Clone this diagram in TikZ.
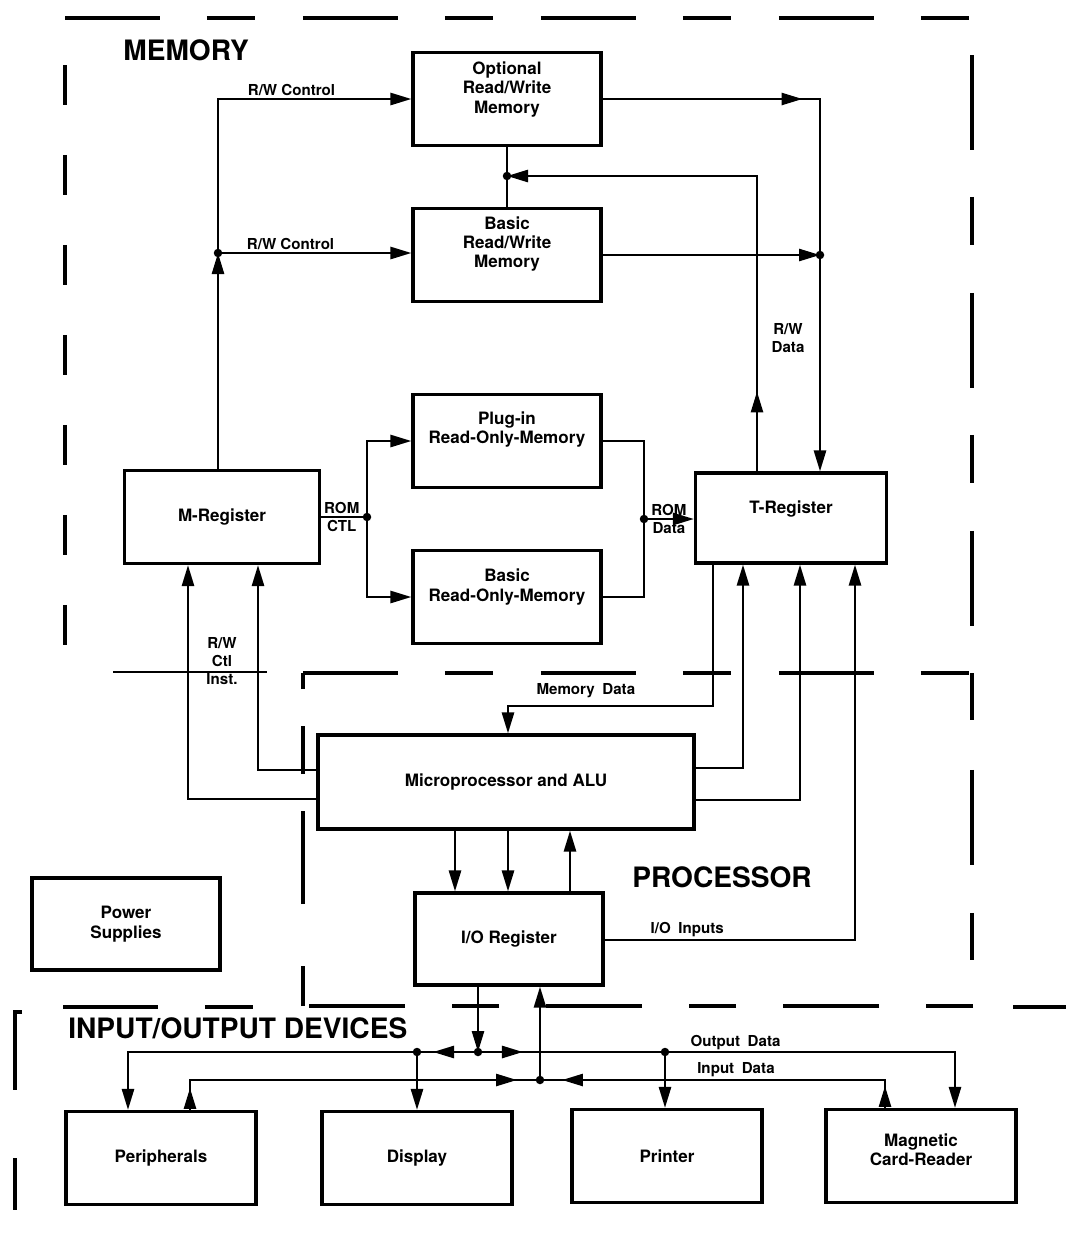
\documentclass[tikz,border=0pt]{standalone}
\usepackage{fontspec}
\setmainfont{TeX Gyre Heros}
\usetikzlibrary{arrows.meta,decorations.markings}

\tikzset{
  box/.style={draw, line width=1.8pt, minimum width=3.76cm, minimum height=1.86cm,
    align=center, font=\bfseries\fontsize{9.7}{11}\selectfont},
  lift/.style={text depth=#1},
  wire/.style={line width=1.5pt},
  lbl/.style={font=\bfseries\fontsize{8.6}{10}\selectfont, inner sep=1pt, align=center},
  title/.style={font=\bfseries\fontsize{16}{18}\selectfont, inner sep=0pt},
  region/.style={line width=2.4pt, dash pattern=on 1.9cm off 0.94cm on 0.96cm off 0.96cm},
  >={Triangle[length=0.42cm,width=0.24cm]},
  arr/.style={postaction={decorate, decoration={markings, mark=at position #1 with {\arrow{>}}}}},
}

\begin{document}
\begin{tikzpicture}[x=0.02cm, y=-0.02cm]
\useasboundingbox (0,0) rectangle (1066,1245);

% blocks
\node[box, lift=13pt] (optrw) at (507,99) {Optional\\Read/Write\\Memory};
\node[box, lift=14.5pt] (basrw) at (507,255) {Basic\\Read/Write\\Memory};
\node[box, lift=15.5pt] (plugrom) at (507,441) {Plug-in\\Read-Only-Memory};
\node[box, lift=13.5pt] (basrom) at (507,597) {Basic\\Read-Only-Memory};
\node[box, minimum width=3.9cm] (mreg) at (222,517) {M-Register};
\node[box, minimum width=3.82cm, minimum height=1.8cm, lift=12pt] (treg) at (791,518) {T-Register};
\node[box, minimum width=7.52cm, minimum height=1.88cm] (alu) at (506,782) {Microprocessor and ALU};
\node[box, minimum height=1.84cm] (ioreg) at (509,939) {I/O Register};
\node[box, minimum height=1.84cm] (power) at (126,924) {Power\\Supplies};
\node[box, minimum width=3.8cm] (periph) at (161,1158) {Peripherals};
\node[box, minimum width=3.8cm] (disp) at (417,1158) {Display};
\node[box, minimum width=3.8cm] (printer) at (667,1156) {Printer};
\node[box, minimum width=3.8cm, lift=7pt] (cardrd) at (921,1156) {Magnetic\\Card-Reader};

% junctions
\coordinate (jm) at (218,253);
\coordinate (jrw) at (507,176);
\coordinate (jr) at (820,255);
\coordinate (jc) at (367,517);
\coordinate (jd) at (644,519);
\coordinate (jo) at (478,1052);
\coordinate (ji) at (540,1080);
\coordinate (jdsp) at (417,1052);
\coordinate (jprn) at (665,1052);

% memory connections
\draw[wire,->] (mreg.north -| jm) -- (jm);
\draw[wire,->] (jm) |- node[lbl, above, pos=0.69] (rwc1) {R/W Control} (optrw.west);
\draw[wire,->] (jm) -- node[lbl, above, pos=0.375] (rwc2) {R/W Control} (jm -| basrw.west);
\draw[wire] (optrw.south) -- (basrw.north);
\draw[wire,->,arr=1.6cm] (treg.north -| 757,0) |- (jrw);
\draw[wire,arr=4cm] (optrw.east) -| (jr);
\draw[wire,->] (basrw.east) -- (jr);
\draw[wire,->] (jr) -- (jr |- treg.north);
\node[lbl] (rwd) at (788,338) {R/W\\Data};

\draw[wire] (mreg.east) -- node[lbl, above, pos=0.45] (romc1) {ROM} node[lbl, below, pos=0.45] (romc2) {CTL} (jc);
\draw[wire,->] (jc) |- (plugrom.west);
\draw[wire,->] (jc) |- (basrom.west);
\draw[wire] (plugrom.east) -| (jd);
\draw[wire] (basrom.east) -| (jd);
\draw[wire,->] (jd) -- node[lbl, above] (romd1) {ROM} node[lbl, below] (romd2) {Data} (jd -| treg.west);

% processor connections
\draw[wire,->] (treg.south -| 713,0) -- (713,706) -| node[lbl, above=3pt, pos=0.31] (memd) {Memory\enspace Data} (alu.north -| 508,0);
\draw[wire,->] (alu.east |- 0,768) -| (743,0 |- treg.south);
\draw[wire,->] (alu.east |- 0,800) -| (800,0 |- treg.south);
\draw[wire,->] (ioreg.east |- 0,940) -| node[lbl, above, pos=0.165] (ioin) {I/O\enspace Inputs} (855,0 |- treg.south);
\draw[wire,->] (alu.west |- 0,770) -| (258,0 |- mreg.south);
\draw[wire,->] (alu.west |- 0,799) -| (188,0 |- mreg.south);
\node[lbl] (rwci) at (222,661) {R/W\\Ctl\\Inst.};

\foreach \x in {455,508}
  \draw[wire,->] (alu.south -| \x,0) -- (ioreg.north -| \x,0);
\draw[wire,->] (ioreg.north -| 570,0) -- (alu.south -| 570,0);

% i/o buses
\draw[wire,->] (ioreg.south -| jo) -- (jo);
\draw[wire,->] (ji) -- (ioreg.south -| ji);
\draw[wire,->,arr=0.9cm] (jo) -| (periph.north -| 128,0);
\draw[wire,->,arr=0.9cm] (jo) -| node[lbl, above, pos=0.27, inner sep=0.5pt] (outd) {Output\enspace Data} (cardrd.north -| 955,0);
\draw[wire,->] (jdsp) -- (disp.north -| jdsp);
\draw[wire,->] (jprn) -- (printer.north -| jprn);
\draw[wire,arr=0.44cm,arr=-0.46cm] (periph.north -| 190,0) |- (ji);
\draw[wire,arr=0.44cm,arr=-0.44cm] (cardrd.north -| 885,0) |- node[lbl, above, pos=0.716] (ind) {Input\enspace Data} (ji);

\foreach \j in {jm,jrw,jr,jc,jd,jo,ji,jdsp,jprn}
  \fill (\j) circle (0.085cm);

% regions
\draw[region] (65,18) -- (975,18);
\draw[region, dash pattern=on 0.8cm off 1cm] (65,65) -- (65,692);
\draw[region] (972,55) -- (972,628);
\draw[wire] (113,672) -- (267,672);
\draw[region] (303,673) -- (973,673);
\draw[region, dash pattern=on 0.94cm off 1cm on 1.9cm off 0.96cm] (972,673) -- (972,1006);
\draw[region, dash pattern=on 0.94cm off 0.94cm on 1.92cm off 0.94cm] (973,1006) -- (303,1006);
\draw[region, dash pattern=on 0.8cm off 1.24cm on 1.86cm off 0.74cm on 0.96cm off 0.74cm on 0.4cm off 1cm] (303,1006) -- (303,673);
\draw[region] (63,1007) -- (257,1007);
\draw[region] (1013,1007) -- (1066,1007);
\draw[line width=2pt] (22,1012) -- (15,1012) -- (15,1090) (15,1158) -- (15,1210);

\node[title, anchor=west] (memt) at (123,50) {MEMORY};
\node[title] (proct) at (722,877) {PROCESSOR};
\node[title, anchor=west] (iot) at (68,1028) {INPUT/OUTPUT DEVICES};
\end{tikzpicture}
\end{document}
